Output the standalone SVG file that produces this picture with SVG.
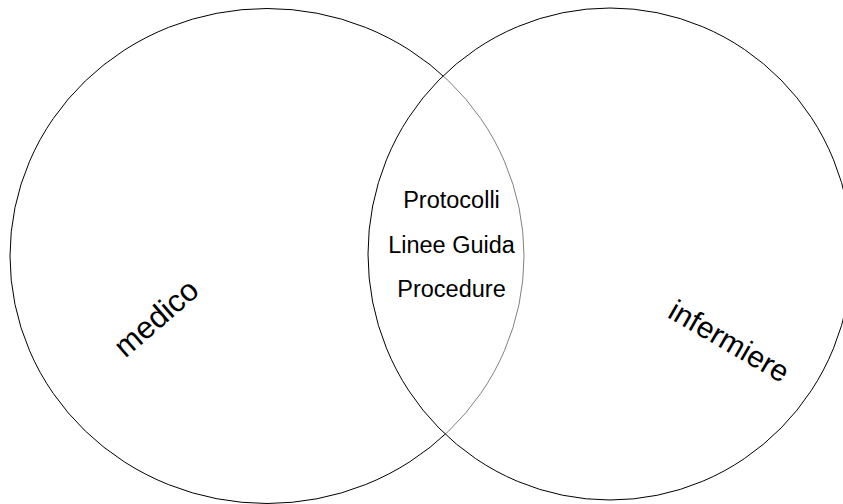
<svg xmlns="http://www.w3.org/2000/svg" width="843" height="504" viewBox="0 0 843 504">
  <style>
    .set { stroke: #000; stroke-width: 1; }
    .lbl { font-family: "Liberation Sans", Arial, sans-serif; fill: #000; }
    .big { font-size: 30px; text-anchor: middle; }
    .mid { font-size: 23.5px; text-anchor: middle; }
  </style>
  <rect width="843" height="504" fill="#fff"/>
  <!-- two overlapping sets; the second is half-transparent so the first outline shows through faintly -->
  <g id="medico">
    <ellipse class="set" cx="267" cy="256" rx="257" ry="247.5" fill="#fff"/>
    <text class="lbl big" transform="translate(163,326) rotate(-41)" style="font-size:31px">medico</text>
  </g>
  <g id="infermiere">
    <ellipse class="set" cx="610" cy="254" rx="242" ry="246" fill="#fff" fill-opacity="0.5"/>
    <text class="lbl big" transform="translate(724,350) rotate(30)">infermiere</text>
  </g>
  <g id="intersezione">
    <text class="lbl mid" x="451.5" y="208">Protocolli</text>
    <text class="lbl mid" x="451.5" y="253">Linee Guida</text>
    <text class="lbl mid" x="451.5" y="297">Procedure</text>
  </g>
  <g id="connectors"/>
</svg>
